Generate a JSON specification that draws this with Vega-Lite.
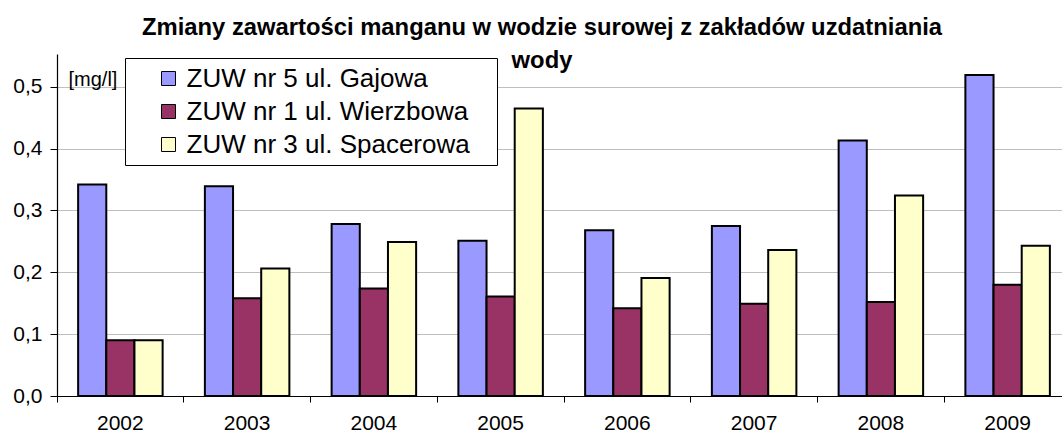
{
  "$schema": "https://vega.github.io/schema/vega-lite/v6.json",
  "autosize": {"type": "none"},
  "padding": {"left": 57, "top": 54, "right": 0, "bottom": 47},
  "width": 1014,
  "height": 342,
  "background": "white",
  "config": {
    "font": "Liberation Sans",
    "view": {"stroke": null}
  },
  "title": {
    "text": ["Zmiany zawartości manganu w wodzie surowej z zakładów uzdatniania", "wody"],
    "fontSize": 23.8,
    "fontWeight": "bold",
    "color": "black",
    "anchor": "middle",
    "dx": -22,
    "baseline": "alphabetic",
    "offset": -38,
    "lineHeight": 33
  },
  "data": {
    "values": [
      {"rok": "2002", "zuw": "ZUW nr 5 ul. Gajowa", "v": 0.342},
      {"rok": "2002", "zuw": "ZUW nr 1 ul. Wierzbowa", "v": 0.090},
      {"rok": "2002", "zuw": "ZUW nr 3 ul. Spacerowa", "v": 0.090},
      {"rok": "2003", "zuw": "ZUW nr 5 ul. Gajowa", "v": 0.339},
      {"rok": "2003", "zuw": "ZUW nr 1 ul. Wierzbowa", "v": 0.158},
      {"rok": "2003", "zuw": "ZUW nr 3 ul. Spacerowa", "v": 0.206},
      {"rok": "2004", "zuw": "ZUW nr 5 ul. Gajowa", "v": 0.278},
      {"rok": "2004", "zuw": "ZUW nr 1 ul. Wierzbowa", "v": 0.174},
      {"rok": "2004", "zuw": "ZUW nr 3 ul. Spacerowa", "v": 0.249},
      {"rok": "2005", "zuw": "ZUW nr 5 ul. Gajowa", "v": 0.251},
      {"rok": "2005", "zuw": "ZUW nr 1 ul. Wierzbowa", "v": 0.161},
      {"rok": "2005", "zuw": "ZUW nr 3 ul. Spacerowa", "v": 0.465},
      {"rok": "2006", "zuw": "ZUW nr 5 ul. Gajowa", "v": 0.268},
      {"rok": "2006", "zuw": "ZUW nr 1 ul. Wierzbowa", "v": 0.142},
      {"rok": "2006", "zuw": "ZUW nr 3 ul. Spacerowa", "v": 0.191},
      {"rok": "2007", "zuw": "ZUW nr 5 ul. Gajowa", "v": 0.275},
      {"rok": "2007", "zuw": "ZUW nr 1 ul. Wierzbowa", "v": 0.149},
      {"rok": "2007", "zuw": "ZUW nr 3 ul. Spacerowa", "v": 0.236},
      {"rok": "2008", "zuw": "ZUW nr 5 ul. Gajowa", "v": 0.413},
      {"rok": "2008", "zuw": "ZUW nr 1 ul. Wierzbowa", "v": 0.152},
      {"rok": "2008", "zuw": "ZUW nr 3 ul. Spacerowa", "v": 0.324},
      {"rok": "2009", "zuw": "ZUW nr 5 ul. Gajowa", "v": 0.519},
      {"rok": "2009", "zuw": "ZUW nr 1 ul. Wierzbowa", "v": 0.180},
      {"rok": "2009", "zuw": "ZUW nr 3 ul. Spacerowa", "v": 0.243}
    ]
  },
  "mark": {"type": "bar", "stroke": "black", "strokeWidth": 2},
  "encoding": {
    "x": {
      "field": "rok",
      "type": "nominal",
      "scale": {"paddingInner": 0, "paddingOuter": 0},
      "axis": {
        "title": null,
        "bandPosition": 0,
        "labelAngle": 0,
        "labelFontSize": 21,
        "labelColor": "black",
        "labelPadding": 10,
        "domainColor": "black",
        "domainWidth": 1.2,
        "tickColor": "black",
        "tickSize": 6,
        "grid": false
      }
    },
    "xOffset": {
      "field": "zuw",
      "type": "nominal",
      "sort": ["ZUW nr 5 ul. Gajowa", "ZUW nr 1 ul. Wierzbowa", "ZUW nr 3 ul. Spacerowa"],
      "scale": {"paddingInner": 0, "paddingOuter": 0.75}
    },
    "y": {
      "field": "v",
      "type": "quantitative",
      "scale": {"domain": [0, 0.553], "nice": false, "zero": true},
      "axis": {
        "values": [0, 0.1, 0.2, 0.3, 0.4, 0.5],
        "labelExpr": "replace(format(datum.value, '.1f'), '.', ',')",
        "labelFontSize": 21,
        "labelColor": "black",
        "labelPadding": 8,
        "tickSize": 7,
        "tickColor": "black",
        "domainColor": "black",
        "domainWidth": 1.2,
        "gridColor": "#bfbfbf",
        "gridWidth": 1,
        "title": "[mg/l]",
        "titleAngle": 0,
        "titleAlign": "left",
        "titleBaseline": "alphabetic",
        "titleX": 11,
        "titleY": 31,
        "titleFontSize": 20,
        "titleFontWeight": "normal",
        "titleColor": "black"
      }
    },
    "color": {
      "field": "zuw",
      "type": "nominal",
      "sort": ["ZUW nr 5 ul. Gajowa", "ZUW nr 1 ul. Wierzbowa", "ZUW nr 3 ul. Spacerowa"],
      "scale": {"range": ["#9999ff", "#993366", "#ffffcc"]},
      "legend": {
        "orient": "none",
        "legendX": 68,
        "legendY": 4,
        "title": " ",
        "titleOrient": "right",
        "titlePadding": 20,
        "titleFontSize": 12,
        "fillColor": "white",
        "strokeColor": "black",
        "padding": 7.5,
        "symbolType": "square",
        "symbolSize": 196,
        "symbolStrokeColor": "black",
        "symbolStrokeWidth": 1,
        "symbolOffset": 23,
        "labelOffset": 5,
        "labelFontSize": 26,
        "labelColor": "black",
        "labelLimit": 0,
        "rowPadding": 7
      }
    }
  }
}
